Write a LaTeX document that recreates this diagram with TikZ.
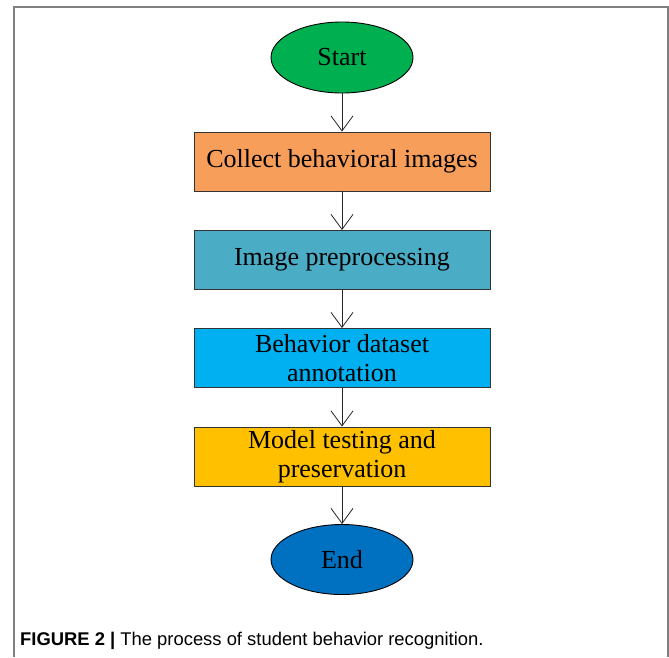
\documentclass[tikz,border=0pt]{standalone}
\usepackage{fontspec}
\setmainfont{Liberation Serif}
\newfontfamily\capfont{Liberation Sans}
\usetikzlibrary{shapes.geometric,arrows.meta}
\definecolor{cgreen}{HTML}{00B050}
\definecolor{corange}{HTML}{F79E5A}
\definecolor{cteal}{HTML}{4BACC6}
\definecolor{csky}{HTML}{00B0F0}
\definecolor{cyellow}{HTML}{FFC000}
\definecolor{cblue}{HTML}{0070C0}
\definecolor{frame}{HTML}{808080}
\tikzset{
  stepbox/.style={draw=black!80, line width=0.9pt, minimum width=296pt, minimum height=59pt,
    inner sep=0pt, align=center, font=\fontsize{26}{29.5}\selectfont},
  term/.style={ellipse, draw=black, line width=0.9pt, minimum width=142pt, minimum height=71pt,
    inner sep=0pt, font=\fontsize{26}{29}\selectfont},
  flow/.style={draw=black!85, line width=0.8pt, -{Straight Barb[length=15pt,width=22pt,line width=0.8pt]}}
}
\begin{document}
\begin{tikzpicture}[x=1pt,y=-1pt]
\useasboundingbox (0,0) rectangle (669,657);
\draw[frame, line width=2pt] (14,657) -- (14,7) -- (668,7) -- (668,657);
\node[term, fill=cgreen] (start) at (342,57.5) {Start};
\node[stepbox, fill=corange] (collect) at (342,161.5) {Collect behavioral images};
\node[stepbox, fill=cteal] (prep) at (342,260) {Image preprocessing};
\node[stepbox, fill=csky] (annot) at (342,358) {Behavior dataset\\annotation};
\node[stepbox, fill=cyellow] (model) at (342,456.5) {Model testing and\\preservation};
\node[term, fill=cblue, minimum height=70pt] (end) at (342,559.5) {End};
\draw[flow] (start) -- (collect);
\draw[flow] (collect) -- (prep);
\draw[flow] (prep) -- (annot);
\draw[flow] (annot) -- (model);
\draw[flow] (model) -- (end);
\node[anchor=base west, inner sep=0pt, font=\capfont\fontsize{18.4}{21}\selectfont] (cap) at (20,645)
  {\textbf{FIGURE 2 |} The process of student behavior recognition.};
\end{tikzpicture}
\end{document}
